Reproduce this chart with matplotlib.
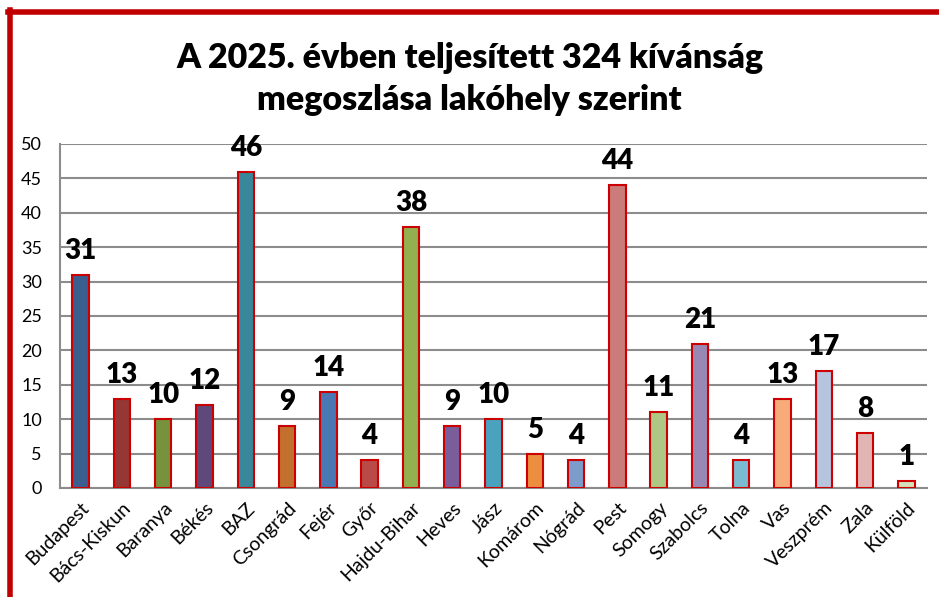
import matplotlib.pyplot as plt

megyek = ["Budapest", "Bács-Kiskun", "Baranya", "Békés", "BAZ", "Csongrád",
          "Fejér", "Győr", "Hajdu-Bihar", "Heves", "Jász", "Komárom", "Nógrád",
          "Pest", "Somogy", "Szabolcs", "Tolna", "Vas", "Veszprém", "Zala", "Külföld"]
kivansagok = [31, 13, 10, 12, 46, 9, 14, 4, 38, 9, 10, 5, 4, 44, 11, 21, 4, 13, 17, 8, 1]
szinek = ["#3A5E8E", "#953735", "#76923C", "#5F497A", "#38879B", "#C3702F",
          "#4A78B3", "#B94A48", "#92B050", "#7A5E9C", "#4AA3BE", "#EB8E40",
          "#7C9CCB", "#CB7B79", "#AEC784", "#9A88B4", "#7ABBD1", "#F7AB78",
          "#B7C4DE", "#E0B5B4", "#D3E1BA"]

plt.rcParams['font.family'] = ['Lato', 'DejaVu Sans']

fig = plt.figure(figsize=(9.39, 5.97), dpi=100)
ax = fig.add_axes([60 / 939, 1 - 488 / 597, 867 / 939, 344 / 597])

x = range(len(megyek))
ax.bar(x, kivansagok, width=0.4, color=szinek, edgecolor="#CC0000",
       linewidth=1.5, zorder=3)
for xi, v in zip(x, kivansagok):
    ax.text(xi, v + 1.6, str(v), ha="center", va="bottom", fontsize=20,
            fontweight="heavy", color="black")

ax.set_xlim(-0.5, len(megyek) - 0.5)
ax.set_ylim(0, 50)
ax.set_yticks(range(0, 51, 5))
ax.yaxis.grid(True, color="#8C8C8C", linewidth=1.5, zorder=0)
ax.set_axisbelow(True)
for s in ["top", "right"]:
    ax.spines[s].set_visible(False)
for s in ["left", "bottom"]:
    ax.spines[s].set_color("#8C8C8C")
    ax.spines[s].set_linewidth(1.5)
ax.tick_params(axis="y", length=0, labelsize=13, pad=13)
ax.tick_params(axis="x", length=0, labelsize=14, pad=8)
ax.set_xticks(list(x))
ax.set_xticklabels(megyek, rotation=45, ha="right", rotation_mode="anchor")

fig.text(0.5, 1 - 58 / 597, "A 2025. évben teljesített 324 kívánság", ha="center",
         va="center", fontsize=24.5, fontweight="heavy")
fig.text(0.5, 1 - 100 / 597, "megoszlása lakóhely szerint", ha="center",
         va="center", fontsize=24.5, fontweight="heavy")

# piros keret (bal és felső szél)
fig.add_artist(plt.Line2D([10 / 939, 10 / 939], [0, 1 - 10 / 597],
                          transform=fig.transFigure, color="#C00000", linewidth=4))
fig.add_artist(plt.Line2D([8 / 939, 1], [1 - 12 / 597, 1 - 12 / 597],
                          transform=fig.transFigure, color="#C00000", linewidth=4))

fig.savefig("out.png", dpi=100)
